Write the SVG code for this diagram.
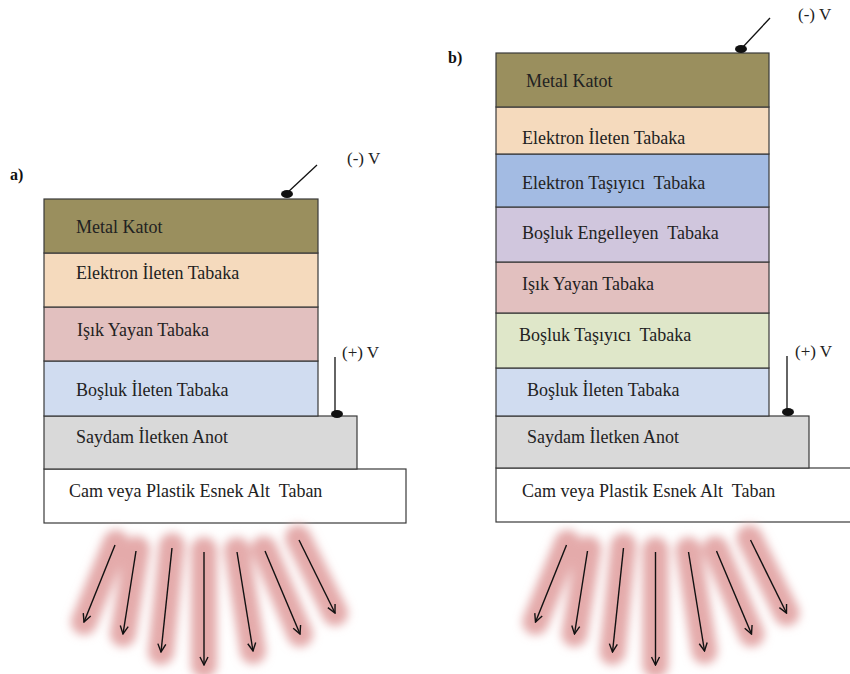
<svg xmlns="http://www.w3.org/2000/svg" width="850" height="674" viewBox="0 0 850 674">
<style>
  .layer rect { stroke: #3a3a3a; stroke-width: 1.2; }
  .lbl { font-family: "Liberation Serif", "Times New Roman", serif; font-size: 18px; fill: #222; white-space: pre; }
  .tag { font-family: "Liberation Serif", "Times New Roman", serif; font-size: 16px; font-weight: bold; fill: #111; }
  .volt { font-family: "Liberation Serif", "Times New Roman", serif; font-size: 17px; fill: #222; }
  .wire { stroke: #111; stroke-width: 1.3; fill: none; }
  .dot { fill: #111; }
  .glow { stroke: #e4aaaa; stroke-width: 26; stroke-linecap: round; fill: none; }
  .ray { stroke: #111; stroke-width: 1.4; fill: none; marker-end: url(#head); }
</style>
<defs>
  <filter id="blur" filterUnits="userSpaceOnUse" x="0" y="500" width="850" height="174">
    <feGaussianBlur stdDeviation="5"/>
  </filter>
  <marker id="head" viewBox="0 0 10 10" refX="9" refY="5" markerWidth="10" markerHeight="10" markerUnits="userSpaceOnUse" orient="auto">
    <path d="M1,1 L9,5 L1,9" fill="none" stroke="#111" stroke-width="1.4"/>
  </marker>
  <g id="rays">
    <g filter="url(#blur)">
      <line class="glow" x1="116" y1="543" x2="84" y2="622"/>
      <line class="glow" x1="137" y1="549" x2="123" y2="634"/>
      <line class="glow" x1="172" y1="546" x2="161" y2="652"/>
      <line class="glow" x1="204" y1="550" x2="204" y2="665"/>
      <line class="glow" x1="237" y1="550" x2="253" y2="651"/>
      <line class="glow" x1="264" y1="549" x2="300" y2="634"/>
      <line class="glow" x1="298" y1="538" x2="335" y2="613"/>
    </g>
    <g>
      <line class="ray" x1="115" y1="545" x2="84" y2="622"/>
      <line class="ray" x1="136" y1="551" x2="123" y2="634"/>
      <line class="ray" x1="172" y1="548" x2="161" y2="652"/>
      <line class="ray" x1="204" y1="552" x2="204" y2="665"/>
      <line class="ray" x1="237" y1="552" x2="253" y2="651"/>
      <line class="ray" x1="265" y1="551" x2="300" y2="634"/>
      <line class="ray" x1="299" y1="540" x2="335" y2="613"/>
    </g>
  </g>
</defs>
<rect width="850" height="674" fill="#ffffff"/>

<!-- Panel a -->
<text class="tag" x="10" y="180">a)</text>
<g id="a-cam" class="layer"><rect x="44" y="469" width="362" height="54" fill="#ffffff"/><text class="lbl" x="69" y="497">Cam veya Plastik Esnek Alt  Taban</text></g>
<g id="a-anot" class="layer"><rect x="44" y="416" width="313" height="53" fill="#d9d9d9"/><text class="lbl" x="76" y="443">Saydam İletken Anot</text></g>
<g id="a-bosluk-ileten" class="layer"><rect x="44" y="361" width="274" height="55" fill="#d0dcf0"/><text class="lbl" x="76" y="396">Boşluk İleten Tabaka</text></g>
<g id="a-isik" class="layer"><rect x="44" y="307" width="274" height="54" fill="#e2c0bf"/><text class="lbl" x="77" y="336">Işık Yayan Tabaka</text></g>
<g id="a-elektron-ileten" class="layer"><rect x="44" y="253" width="274" height="54" fill="#f5dabd"/><text class="lbl" x="76" y="279">Elektron İleten Tabaka</text></g>
<g id="a-katot" class="layer"><rect x="44" y="199" width="274" height="54" fill="#9a8f5e"/><text class="lbl" x="76" y="233">Metal Katot</text></g>

<!-- Panel b -->
<text class="tag" x="448" y="63">b)</text>
<g id="b-cam" class="layer"><rect x="496" y="468" width="370" height="54" fill="#ffffff"/><text class="lbl" x="522" y="497">Cam veya Plastik Esnek Alt  Taban</text></g>
<g id="b-anot" class="layer"><rect x="496" y="416" width="313" height="52" fill="#d9d9d9"/><text class="lbl" x="527" y="443">Saydam İletken Anot</text></g>
<g id="b-bosluk-ileten" class="layer"><rect x="496" y="368" width="273" height="48" fill="#d0dcf0"/><text class="lbl" x="527" y="396">Boşluk İleten Tabaka</text></g>
<g id="b-bosluk-tasiyici" class="layer"><rect x="496" y="313" width="273" height="55" fill="#dfe7c9"/><text class="lbl" x="519" y="341">Boşluk Taşıyıcı  Tabaka</text></g>
<g id="b-isik" class="layer"><rect x="496" y="262" width="273" height="51" fill="#e2c0bf"/><text class="lbl" x="522" y="290">Işık Yayan Tabaka</text></g>
<g id="b-bosluk-engelleyen" class="layer"><rect x="496" y="207" width="273" height="55" fill="#d0c6dd"/><text class="lbl" x="522" y="239">Boşluk Engelleyen  Tabaka</text></g>
<g id="b-elektron-tasiyici" class="layer"><rect x="496" y="154" width="273" height="53" fill="#a3bbe3"/><text class="lbl" x="522" y="189">Elektron Taşıyıcı  Tabaka</text></g>
<g id="b-elektron-ileten" class="layer"><rect x="496" y="107" width="273" height="47" fill="#f5dabd"/><text class="lbl" x="522" y="144">Elektron İleten Tabaka</text></g>
<g id="b-katot" class="layer"><rect x="496" y="53" width="273" height="54" fill="#9a8f5e"/><text class="lbl" x="526" y="87">Metal Katot</text></g>

<!-- Connectors / leads -->
<g id="connectors">
  <line class="wire" x1="317" y1="165" x2="287" y2="193"/>
  <ellipse class="dot" cx="287" cy="194" rx="6" ry="4"/>
  <text class="volt" x="347" y="164">(-) V</text>
  <line class="wire" x1="335" y1="357" x2="335" y2="413"/>
  <ellipse class="dot" cx="337" cy="414" rx="6" ry="4"/>
  <text class="volt" x="342" y="358">(+) V</text>

  <line class="wire" x1="770" y1="18" x2="742" y2="48"/>
  <ellipse class="dot" cx="741" cy="49" rx="6" ry="4"/>
  <text class="volt" x="798" y="20">(-) V</text>
  <line class="wire" x1="787" y1="356" x2="787" y2="411"/>
  <ellipse class="dot" cx="788" cy="412" rx="6" ry="4"/>
  <text class="volt" x="795" y="357">(+) V</text>
</g>

<!-- Emitted light -->
<g id="light-a"><use href="#rays"/></g>
<g id="light-b"><use href="#rays" transform="translate(451.5,0)"/></g>
</svg>
